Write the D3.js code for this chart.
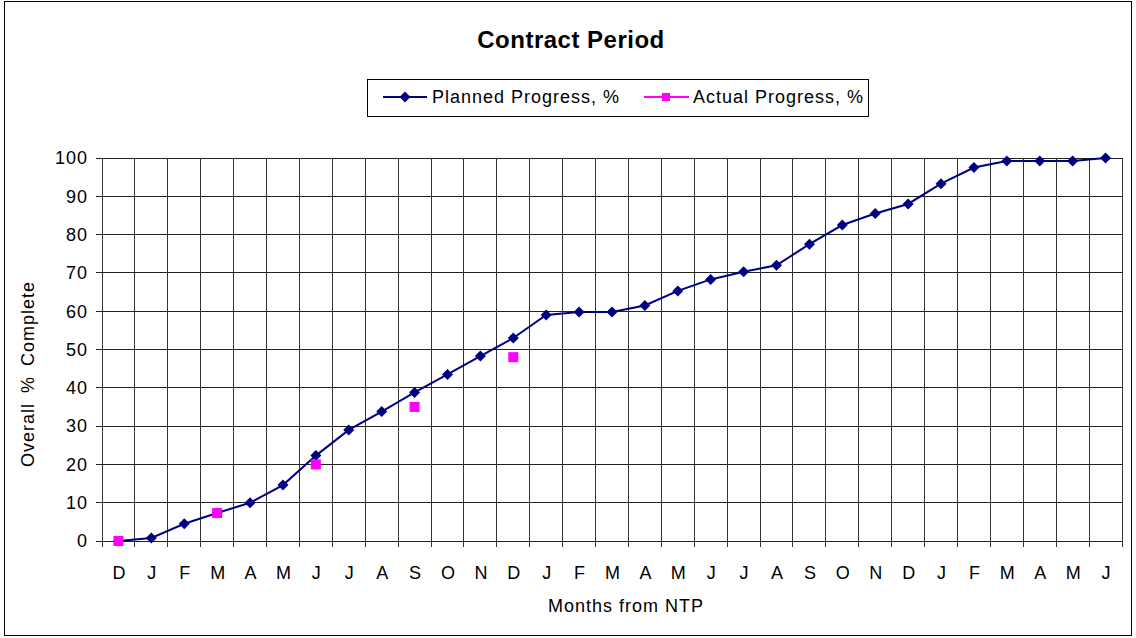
<!DOCTYPE html>
<html>
<head>
    <script src="https://d3js.org/d3.v7.min.js"></script>
    <style>
        body { margin: 0; background: #fff; }
        text { font-family: "Liberation Sans", Arial, sans-serif; fill: #000; }
    </style>
</head>
<body>
<div id="chart"></div>
<script>
    // categories along the x axis (months from NTP)
    const months = ["D","J","F","M","A","M","J","J","A","S","O","N","D",
                    "J","F","M","A","M","J","J","A","S","O","N","D",
                    "J","F","M","A","M","J"];
    // planned progress, % (one per month)
    const planned = [0, 0.8, 4.5, 7.3, 10, 14.6, 22.3, 29, 33.8, 38.8, 43.5, 48.3, 53,
                     59, 59.8, 59.8, 61.5, 65.3, 68.3, 70.3, 72, 77.5, 82.5, 85.5, 88,
                     93.3, 97.5, 99.2, 99.2, 99.2, 100];
    // actual progress, % (month index, value)
    const actualIdx = [0, 3, 6, 9, 12];
    const actualVal = [0, 7.3, 20, 35, 48];
    const yTicks = [0, 10, 20, 30, 40, 50, 60, 70, 80, 90, 100];

    const width = 1136, height = 638;
    const margin = { top: 158, bottom: 97, left: 102, right: 14 };

    const svg = d3.select("#chart").append("svg")
        .attr("width", width).attr("height", height);

    // outer frame
    svg.append("rect")
        .attr("x", 4.5).attr("y", 1.5)
        .attr("width", 1127).attr("height", 634)
        .attr("fill", "#fff").attr("stroke", "#000").attr("stroke-width", 1);

    const xScale = d3.scaleBand()
        .domain(d3.range(months.length))
        .range([margin.left, width - margin.right])
        .paddingInner(0).paddingOuter(0);
    const yScale = d3.scaleLinear()
        .domain([0, 100])
        .range([height - margin.bottom, margin.top]);

    const cx = i => xScale(i) + xScale.bandwidth() / 2;

    // grid
    const grid = svg.append("g").attr("shape-rendering", "crispEdges");
    grid.selectAll(".hg").data(yTicks).enter().append("line")
        .attr("x1", margin.left - 6).attr("x2", width - margin.right)
        .attr("y1", d => yScale(d)).attr("y2", d => yScale(d))
        .attr("stroke", "#222");
    grid.selectAll(".vg").data(d3.range(months.length + 1)).enter().append("line")
        .attr("x1", i => margin.left + i * xScale.bandwidth())
        .attr("x2", i => margin.left + i * xScale.bandwidth())
        .attr("y1", margin.top).attr("y2", yScale(0) + 6)
        .attr("stroke", "#333");

    const labelStyle = sel => sel.attr("font-size", 18).attr("letter-spacing", 1);

    // y tick labels
    svg.append("g").selectAll("text").data(yTicks).enter().append("text")
        .attr("x", 88).attr("y", d => yScale(d))
        .attr("dy", "0.35em").attr("text-anchor", "end")
        .call(labelStyle).text(d => d);

    // x tick labels
    svg.append("g").selectAll("text").data(months).enter().append("text")
        .attr("x", (d, i) => cx(i) + 1).attr("y", 579)
        .attr("text-anchor", "middle").call(labelStyle).text(d => d);

    // axis titles
    svg.append("text").attr("x", 626).attr("y", 612)
        .attr("text-anchor", "middle").call(labelStyle).text("Months from NTP");
    svg.append("text")
        .attr("transform", "translate(34,374) rotate(-90)")
        .attr("text-anchor", "middle").call(labelStyle).attr("word-spacing", 4)
        .text("Overall % Complete");

    // title
    svg.append("text").attr("x", 571).attr("y", 48)
        .attr("text-anchor", "middle").attr("font-size", 24).attr("font-weight", "bold")
        .attr("letter-spacing", 0.5)
        .text("Contract Period");

    // planned line
    const line = d3.line().x((d, i) => cx(i)).y(d => yScale(d));
    svg.append("path").datum(planned)
        .attr("d", line).attr("fill", "none")
        .attr("stroke", "#000080").attr("stroke-width", 2);

    const diamond = "M0,-5.5L5.5,0L0,5.5L-5.5,0Z";
    svg.append("g").selectAll("path").data(planned).enter().append("path")
        .attr("d", diamond)
        .attr("transform", (d, i) => "translate(" + cx(i) + "," + yScale(d) + ")")
        .attr("fill", "#000080");

    // actual markers (no connecting line)
    svg.append("g").selectAll("rect").data(actualVal).enter().append("rect")
        .attr("x", (d, i) => cx(actualIdx[i]) - 5)
        .attr("y", d => yScale(d) - 5)
        .attr("width", 10).attr("height", 10)
        .attr("fill", "#ff00ff");

    // legend
    const lg = svg.append("g");
    lg.append("rect").attr("x", 367.5).attr("y", 79.5).attr("width", 501).attr("height", 37)
        .attr("fill", "#fff").attr("stroke", "#000");
    lg.append("line").attr("x1", 383).attr("x2", 427).attr("y1", 97).attr("y2", 97)
        .attr("stroke", "#000080").attr("stroke-width", 2);
    lg.append("path").attr("d", diamond).attr("transform", "translate(405,97)").attr("fill", "#000080");
    lg.append("text").attr("x", 432).attr("y", 97).attr("dy", "0.35em")
        .call(labelStyle).text("Planned Progress, %");
    lg.append("line").attr("x1", 644).attr("x2", 689).attr("y1", 97).attr("y2", 97)
        .attr("stroke", "#ff00ff").attr("stroke-width", 2);
    lg.append("rect").attr("x", 662).attr("y", 93).attr("width", 8).attr("height", 8).attr("fill", "#ff00ff");
    lg.append("text").attr("x", 693).attr("y", 97).attr("dy", "0.35em")
        .call(labelStyle).text("Actual Progress, %");
</script>
</body>
</html>
